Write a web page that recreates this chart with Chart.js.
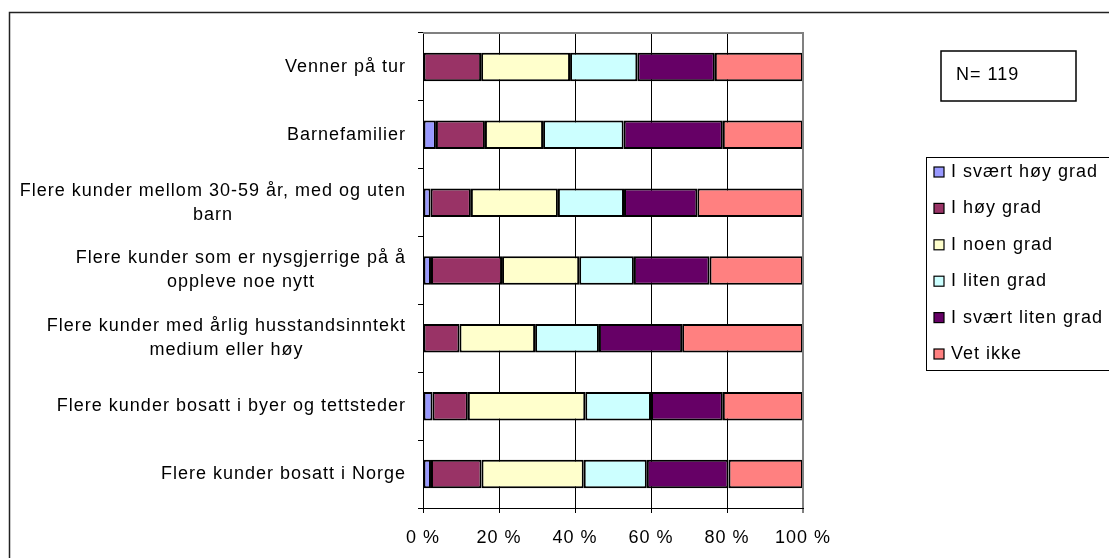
<!DOCTYPE html>
<html>
<head>
<meta charset="utf-8">
<script src="https://cdn.jsdelivr.net/npm/chart.js@4/dist/chart.umd.min.js"></script>
<style>
  html, body { margin: 0; padding: 0; background: #fff; }
  #wrap { width: 1109px; height: 558px; position: relative; }
</style>
</head>
<body>
<div id="wrap"><canvas id="c"></canvas></div>
<script>
// Andel svar per kategori (%), lest av figuren
const categories = [
  'Venner på tur',
  'Barnefamilier',
  ['Flere kunder mellom 30-59 år, med og uten', 'barn'],
  ['Flere kunder som er nysgjerrige på å', 'oppleve noe nytt'],
  ['Flere kunder med årlig husstandsinntekt', 'medium eller høy'],
  'Flere kunder bosatt i byer og tettsteder',
  'Flere kunder bosatt i Norge'
];

const seriesNames = ['I svært høy grad', 'I høy grad', 'I noen grad', 'I liten grad', 'I svært liten grad', 'Vet ikke'];
const seriesColors = ['#9999FF', '#993366', '#FFFFCC', '#CCFFFF', '#660066', '#FF8080'];

const svaertHoy   = [0,    3.4,  2.0,  2.1,  0,    2.5,  2.1];
const hoy         = [15.3, 12.9, 10.6, 18.7, 9.6,  9.3,  13.3];
const noen        = [23.4, 15.3, 22.9, 20.3, 19.9, 30.9, 26.9];
const liten       = [17.7, 21.2, 17.4, 14.4, 16.8, 17.3, 16.6];
const svaertLiten = [20.4, 26.1, 19.3, 19.9, 21.9, 18.9, 21.5];
const vetIkke     = [23.2, 21.1, 27.8, 24.6, 31.8, 21.1, 19.6];

const xTicks = [0, 20, 40, 60, 80, 100];
const nText = 'N= 119';

const FONT = 'Liberation Sans, Arial, sans-serif';
const SIZE = 18;
const SPACING = '1px';
const LINE_H = 24;

const allSeries = [svaertHoy, hoy, noen, liten, svaertLiten, vetIkke];

const spacingPlugin = {
  id: 'spacing',
  beforeLayout(chart) { chart.ctx.letterSpacing = SPACING; },
  beforeDraw(chart) { chart.ctx.letterSpacing = SPACING; }
};

// Kategorietiketter som i Excel: blokken høyrejustert, linjene sentrert i blokken
const yLabelPlugin = {
  id: 'yLabels',
  afterDraw(chart) {
    const ctx = chart.ctx;
    const scale = chart.scales.y;
    const right = scale.right - 5 - 12;
    ctx.save();
    ctx.letterSpacing = SPACING;
    ctx.font = SIZE + 'px ' + FONT;
    ctx.fillStyle = '#000';
    ctx.textBaseline = 'middle';
    chart.data.labels.forEach((lab, i) => {
      const lines = Array.isArray(lab) ? lab : [lab];
      const yc = scale.getPixelForValue(i);
      const w = Math.max(...lines.map(l => ctx.measureText(l).width));
      const y0 = yc - (lines.length - 1) * LINE_H / 2;
      lines.forEach((l, k) => {
        if (lines.length === 1) {
          ctx.textAlign = 'right';
          ctx.fillText(l, right, y0);
        } else {
          ctx.textAlign = 'center';
          ctx.fillText(l, right - w / 2, y0 + k * LINE_H);
        }
      });
    });
    ctx.restore();
  }
};

const framePlugin = {
  id: 'frame',
  beforeDraw(chart) {
    const ctx = chart.ctx;
    ctx.save();
    ctx.strokeStyle = '#222';
    ctx.lineWidth = 1.5;
    ctx.strokeRect(9.5, 12.5, 1300, 700);
    ctx.restore();
  },
  afterDraw(chart) {
    const ctx = chart.ctx;
    const a = chart.chartArea;
    ctx.save();
    // grå topp- og høyrekant på plottområdet
    ctx.strokeStyle = '#808080';
    ctx.lineWidth = 2;
    ctx.beginPath();
    ctx.moveTo(a.left, a.top);
    ctx.lineTo(a.right, a.top);
    ctx.lineTo(a.right, a.bottom);
    ctx.stroke();

    ctx.letterSpacing = SPACING;
    ctx.font = SIZE + 'px ' + FONT;
    ctx.fillStyle = '#000';
    ctx.textBaseline = 'middle';
    ctx.textAlign = 'left';

    // N-boks
    ctx.strokeStyle = '#000';
    ctx.lineWidth = 1.5;
    ctx.strokeRect(941, 51, 135, 50);
    ctx.fillText(nText, 956, 75);

    // forklaring
    ctx.lineWidth = 1;
    ctx.strokeRect(926.5, 157.5, 300, 213);
    chart.data.datasets.forEach((ds, i) => {
      const y = 172 + i * 36.4;
      ctx.fillStyle = ds.backgroundColor;
      ctx.fillRect(934, y - 5, 10, 10);
      ctx.strokeStyle = '#000';
      ctx.lineWidth = 1.2;
      ctx.strokeRect(934, y - 5, 10, 10);
      ctx.fillStyle = '#000';
      ctx.fillText(ds.label, 951, y);
    });
    ctx.restore();
  }
};

new Chart(document.getElementById('c'), {
  type: 'bar',
  data: {
    labels: categories,
    datasets: seriesNames.map((name, i) => ({
      label: name,
      data: allSeries[i],
      backgroundColor: seriesColors[i],
      borderColor: '#000',
      borderWidth: 2,
      borderSkipped: false,
      barPercentage: 0.42,
      categoryPercentage: 1
    }))
  },
  options: {
    indexAxis: 'y',
    responsive: true,
    maintainAspectRatio: false,
    animation: false,
    layout: { padding: { top: 33, right: 306, left: 0, bottom: 0 } },
    plugins: {
      legend: { display: false },
      tooltip: { enabled: false }
    },
    scales: {
      x: {
        stacked: true,
        min: 0,
        max: 100,
        afterFit(scale) { scale.height = 50; },
        afterBuildTicks(scale) { scale.ticks = xTicks.map(v => ({ value: v })); },
        grid: {
          color: c => (c.tick && c.tick.value === 100 ? '#808080' : '#000'),
          lineWidth: c => (c.tick && c.tick.value === 100 ? 2 : 1),
          drawTicks: true,
          tickLength: 5,
          tickColor: '#000',
          tickWidth: 1
        },
        border: { display: true, color: '#000', width: 1 },
        ticks: {
          padding: 14,
          color: '#000',
          font: { family: FONT, size: SIZE },
          callback: v => v + ' %'
        }
      },
      y: {
        stacked: true,
        afterFit(scale) { scale.width = 423; },
        grid: {
          drawOnChartArea: false,
          drawTicks: true,
          tickLength: 5,
          color: '#000'
        },
        border: { display: true, color: '#000', width: 1 },
        ticks: { display: false, autoSkip: false }
      }
    }
  },
  plugins: [spacingPlugin, yLabelPlugin, framePlugin]
});
</script>
</body>
</html>
